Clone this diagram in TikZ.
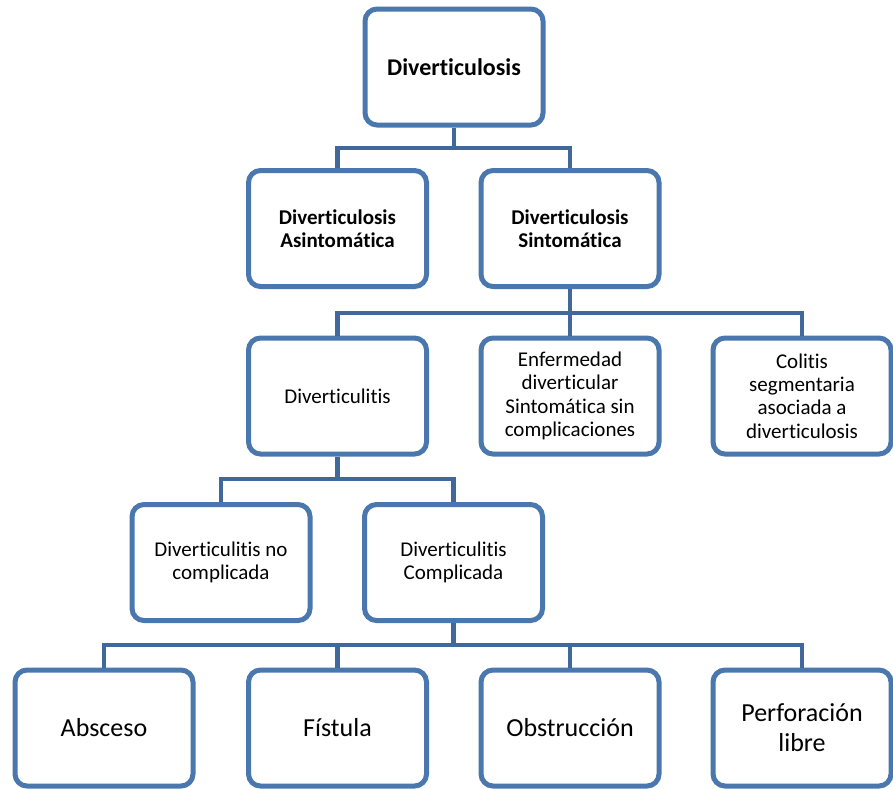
\documentclass[tikz,border=0pt]{standalone}
\usepackage{fontspec}
\setmainfont{Carlito}[Ligatures={NoCommon,NoContextual}]
\definecolor{boxblue}{RGB}{74,120,174}
\definecolor{lineblue}{RGB}{64,104,154}

\begin{document}
\begin{tikzpicture}[x=1pt,y=-1pt]
    \tikzstyle{box}=[draw=boxblue,line width=5pt,fill=white,rounded corners=12pt,
        minimum width=178pt,minimum height=116pt,inner sep=0pt,align=center,
        font=\fontsize{21}{23.3}\selectfont]
    \tikzstyle{conn}=[draw=lineblue,line width=4.5pt]
    \useasboundingbox (0,0) rectangle (893,788);
    % Bars
    \coordinate (bar1) at (0,148);
    \coordinate (bar2) at (0,313);
    \coordinate (bar3) at (0,479);
    \coordinate (bar4) at (0,645);
    % Boxes
    \node[box,font=\fontsize{24}{27}\selectfont\bfseries] (root) at (454,67) {Diverticulosis};
    \node[box,font=\fontsize{21}{23.3}\selectfont\bfseries] (asin) at (337.5,228.5) {Diverticulosis\\Asintomática};
    \node[box,font=\fontsize{21}{23.3}\selectfont\bfseries] (sint) at (570,228.5) {Diverticulosis\\Sintomática};
    \node[box] (ditis) at (337.5,396) {Diverticulitis};
    \node[box] (enf) at (570,396) {Enfermedad\\diverticular\\Sintomática sin\\complicaciones};
    \node[box] (colitis) at (802,396) {Colitis\\segmentaria\\asociada a\\diverticulosis};
    \node[box] (nocomp) at (221,562.5) {Diverticulitis no\\complicada};
    \node[box] (comp) at (453.5,562.5) {Diverticulitis\\Complicada};
    \node[box,font=\fontsize{26}{30}\selectfont] (absc) at (104,728) {Absceso};
    \node[box,font=\fontsize{26}{30}\selectfont] (fist) at (337.5,728) {Fístula};
    \node[box,font=\fontsize{26}{30}\selectfont] (obst) at (570,728) {Obstrucción};
    \node[box,font=\fontsize{26}{30}\selectfont] (perf) at (802,728) {Perforación\\libre};
    % Connectors
    \draw[conn] (root.south) -- (root.south |- bar1) -| (asin.north);
    \draw[conn] (root.south |- bar1) -| (sint.north);
    \draw[conn] (sint.south) -- (sint.south |- bar2) -| (ditis.north);
    \draw[conn] (sint.south |- bar2) -- (enf.north);
    \draw[conn] (sint.south |- bar2) -| (colitis.north);
    \draw[conn] (ditis.south) -- (ditis.south |- bar3) -| (nocomp.north);
    \draw[conn] (ditis.south |- bar3) -| (comp.north);
    \draw[conn] (comp.south) -- (comp.south |- bar4) -| (absc.north);
    \draw[conn] (comp.south |- bar4) -| (fist.north);
    \draw[conn] (comp.south |- bar4) -| (obst.north);
    \draw[conn] (comp.south |- bar4) -| (perf.north);
\end{tikzpicture}
\end{document}
